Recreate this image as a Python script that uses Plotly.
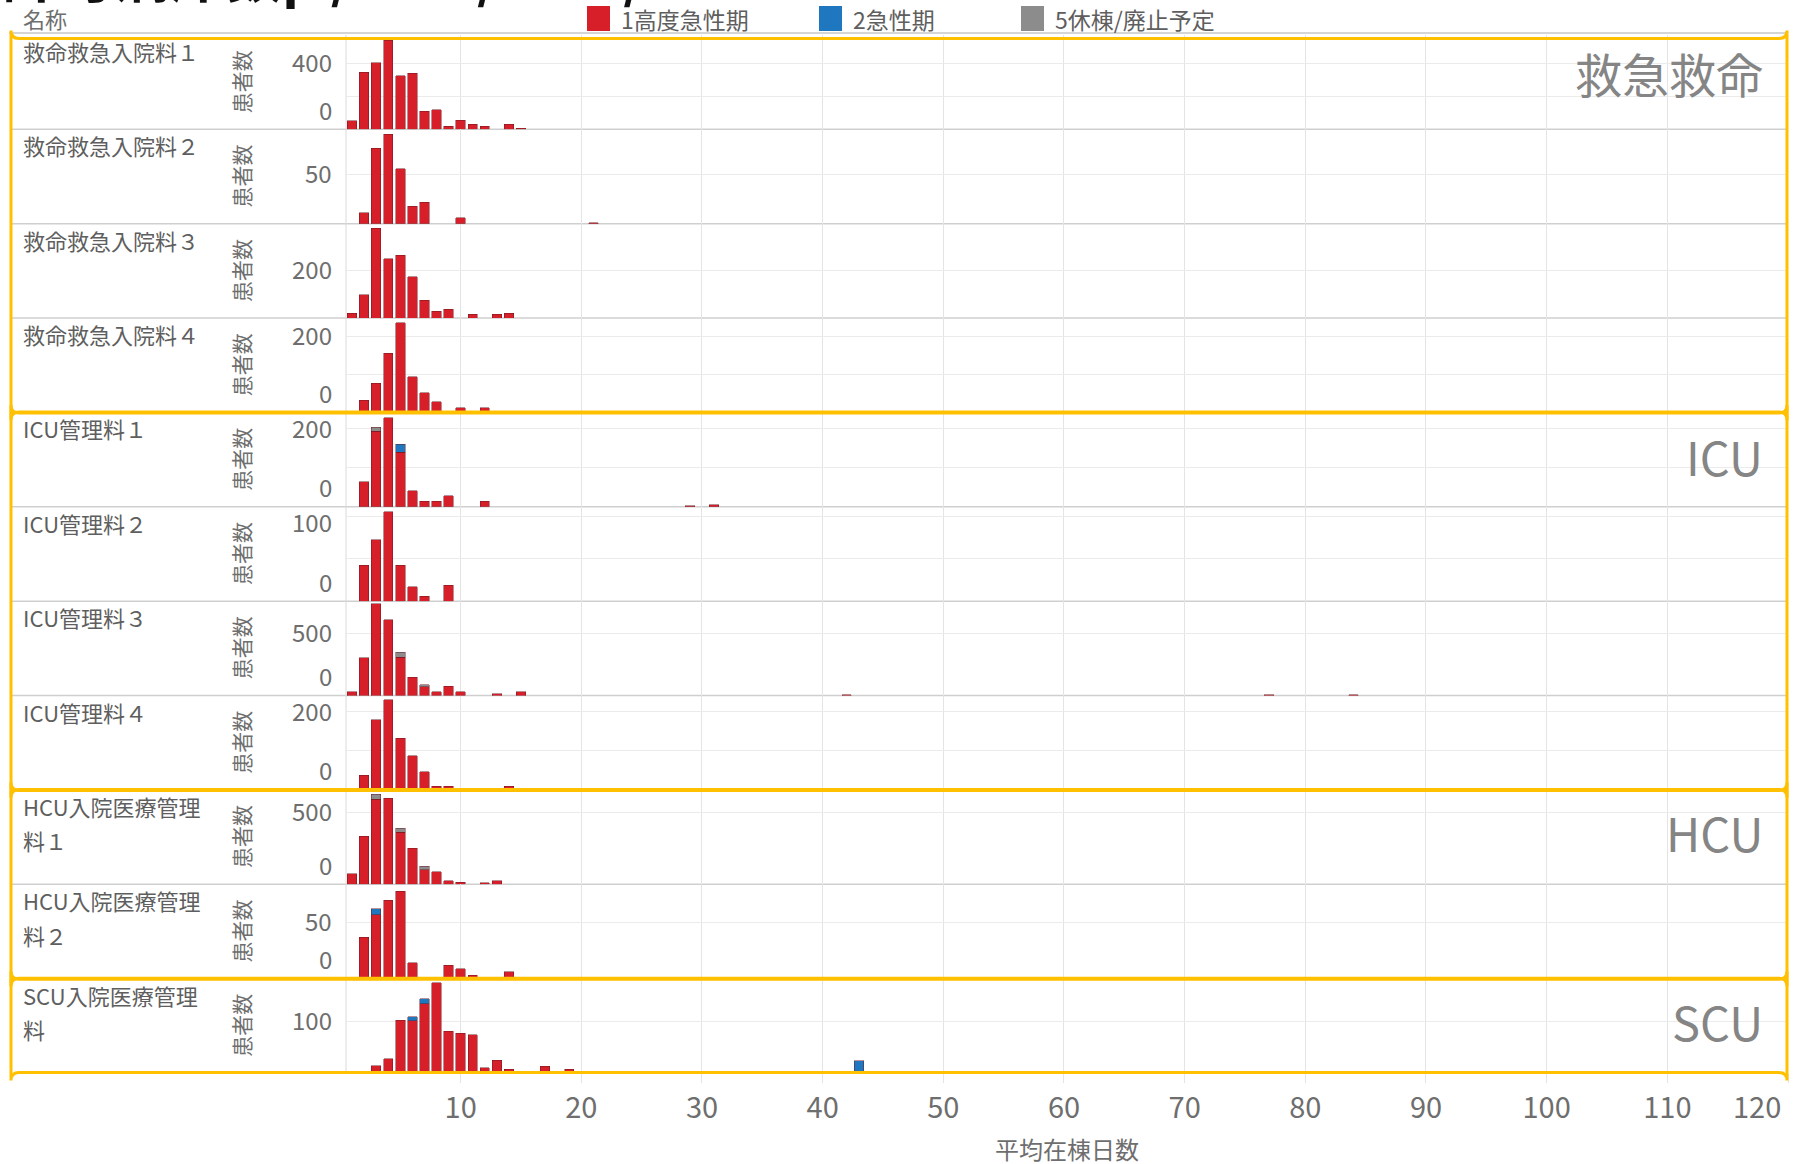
import plotly.graph_objects as go
from plotly.subplots import make_subplots

FONT = "Noto Sans CJK JP"
W, H = 1805, 1164
ML, MR, MT, MB = 346, 17, 35, 91
PW, PH = W - ML - MR, H - MT - MB
NROWS = 11
ROW_H = PH / NROWS

# ---------------- data ----------------
ROW_NAMES = [["救命救急入院料１"], ["救命救急入院料２"], ["救命救急入院料３"], ["救命救急入院料４"],
             ["ICU管理料１"], ["ICU管理料２"], ["ICU管理料３"], ["ICU管理料４"],
             ["HCU入院医療管理", "料１"], ["HCU入院医療管理", "料２"], ["SCU入院医療管理", "料"]]
GROUP_NAMES = ["救急救命", "ICU", "HCU", "SCU"]
GROUP_FIRST_ROW = [0, 4, 8, 10]
GROUP_LAST_ROW = [3, 7, 9, 10]
SERIES = ["1高度急性期", "2急性期", "5休棟/廃止予定"]
COLORS = ["#D71F2A", "#1F78BF", "#8C8C8C"]

DAYS = list(range(1, 22))
HIGH_R1 = [52, 347, 404, 539, 325, 339, 109, 119, 20, 55, 30, 20, 0, 30, 8, 0, 0, 0, 0, 0, 0]
HIGH_R2 = [0, 11, 77, 91, 56, 18, 22, 0, 0, 6, 0, 0, 0, 0, 0, 0, 0, 0, 0, 0, 1]
HIGH_R3 = [21, 97, 374, 247, 262, 172, 75, 29, 36, 0, 15, 0, 15, 21, 0, 0, 0, 0, 0, 0, 0]
HIGH_R4 = [0, 33, 77, 157, 238, 95, 52, 28, 0, 13, 0, 13, 0, 0, 0, 0, 0, 0, 0, 0, 0]
HIGH_R5 = [0, 64, 192, 226, 139, 41, 14, 14, 28, 0, 0, 14, 0, 0, 0, 0, 0, 0, 0, 0, 0]
HIGH_R6 = [0, 42, 72, 105, 42, 17, 6, 0, 19, 0, 0, 0, 0, 0, 0, 0, 0, 0, 0, 0, 0]
HIGH_R7 = [30, 304, 740, 613, 309, 148, 69, 32, 75, 30, 0, 0, 13, 0, 30, 0, 0, 0, 0, 0, 0]
HIGH_R8 = [0, 37, 180, 231, 133, 87, 46, 9, 9, 0, 0, 0, 0, 9, 0, 0, 0, 0, 0, 0, 0]
HIGH_R9 = [74, 337, 593, 600, 365, 251, 101, 88, 23, 14, 0, 12, 23, 0, 0, 0, 0, 0, 0, 0, 0]
HIGH_R10 = [0, 37, 57, 70, 78, 14, 0, 1, 12, 9, 3, 0, 1, 6, 0, 0, 0, 0, 0, 0, 0]
HIGH_R11 = [0, 0, 14, 28, 103, 102, 136, 177, 82, 78, 75, 10, 25, 7, 0, 0, 13, 0, 7, 0, 0]
HIGH_ROWS = [HIGH_R1, HIGH_R2, HIGH_R3, HIGH_R4, HIGH_R5, HIGH_R6,
             HIGH_R7, HIGH_R8, HIGH_R9, HIGH_R10, HIGH_R11]

# sparse long-stay outliers (1高度急性期)
OUTLIER_ROWS = [4, 4, 6, 6, 6, 10]
OUTLIER_DAYS = [29, 31, 42, 77, 84, 47]
OUTLIER_VALS = [3, 5, 8, 8, 8, 3]
# 2急性期
ACUTE_ROWS = [4, 9, 10, 10, 10]
ACUTE_DAYS = [5, 3, 6, 7, 43]
ACUTE_VALS = [20, 5, 8, 10, 24]
# 5休棟/廃止予定
CLOSED_ROWS = [4, 6, 6, 8, 8, 8]
CLOSED_DAYS = [3, 5, 7, 3, 5, 7]
CLOSED_VALS = [10, 40, 20, 35, 26, 25]

# per-row y axes
Y_MAX = [572, 96, 393, 250, 240, 111, 761, 242, 659, 84, 185]
Y_GRID = [[200, 400], [50], [200], [100, 200], [100, 200], [50, 100], [500], [100, 200], [500], [50], [100]]
Y_LABELS = [[0, 400], [50], [200], [0, 200], [0, 200], [0, 100], [0, 500], [0, 200], [0, 500], [0, 50], [100]]

X_TICKS = [10, 20, 30, 40, 50, 60, 70, 80, 90, 100, 110, 120]
X_RANGE = [0.5, 120]
X_TITLE = "平均在棟日数"
Y_TITLE = "患者数"
HEADER = "名称"
TOP_FRAGMENT = "許可病床数p / 400 / 400 / 300"

# ---------------- helpers ----------------
def X(px):
    return (px - ML) / PW


def Y(py):
    return (H - MB - py) / PH


def bound(k):
    return MT + k * ROW_H


def yname(i):
    return "y" if i == 0 else f"y{i + 1}"


def rrect(x0, y0, x1, y1, r=8):
    return (f"M {X(x0 + r)},{Y(y0)} L {X(x1 - r)},{Y(y0)} Q {X(x1)},{Y(y0)} {X(x1)},{Y(y0 + r)} "
            f"L {X(x1)},{Y(y1 - r)} Q {X(x1)},{Y(y1)} {X(x1 - r)},{Y(y1)} "
            f"L {X(x0 + r)},{Y(y1)} Q {X(x0)},{Y(y1)} {X(x0)},{Y(y1 - r)} "
            f"L {X(x0)},{Y(y0 + r)} Q {X(x0)},{Y(y0)} {X(x0 + r)},{Y(y0)} Z")


EDGE = dict(color="rgba(105,25,35,0.6)", width=0.8)
BAR_W = 0.78

fig = make_subplots(rows=NROWS, cols=1, shared_xaxes=True, vertical_spacing=0)

for i in range(NROWS):
    r = i + 1
    xs = [d for d, v in zip(DAYS, HIGH_ROWS[i]) if v > 0]
    ys = [v for v in HIGH_ROWS[i] if v > 0]
    xs += [d for rr, d in zip(OUTLIER_ROWS, OUTLIER_DAYS) if rr == i]
    ys += [v for rr, v in zip(OUTLIER_ROWS, OUTLIER_VALS) if rr == i]
    fig.add_trace(go.Bar(x=xs, y=ys, name=SERIES[0], width=BAR_W,
                         marker=dict(color=COLORS[0], line=EDGE), showlegend=False), row=r, col=1)
    ax = [d for rr, d in zip(ACUTE_ROWS, ACUTE_DAYS) if rr == i]
    ay = [v for rr, v in zip(ACUTE_ROWS, ACUTE_VALS) if rr == i]
    if ax:
        fig.add_trace(go.Bar(x=ax, y=ay, name=SERIES[1], width=BAR_W,
                             marker=dict(color=COLORS[1], line=EDGE), showlegend=False), row=r, col=1)
    cx = [d for rr, d in zip(CLOSED_ROWS, CLOSED_DAYS) if rr == i]
    cy = [v for rr, v in zip(CLOSED_ROWS, CLOSED_VALS) if rr == i]
    if cx:
        fig.add_trace(go.Bar(x=cx, y=cy, name=SERIES[2], width=BAR_W,
                             marker=dict(color=COLORS[2], line=EDGE), showlegend=False), row=r, col=1)

    fig.update_yaxes(row=r, col=1, range=[0, Y_MAX[i]], tickvals=Y_GRID[i], showticklabels=False,
                     showgrid=True, gridcolor="#EBEBEB", gridwidth=1, zeroline=False, ticks="",
                     fixedrange=True)
    fig.update_xaxes(row=r, col=1, range=X_RANGE, tickvals=X_TICKS, showgrid=True,
                     gridcolor="#E4E4E4", gridwidth=1, zeroline=False, showline=False)

fig.update_xaxes(row=NROWS, col=1, showticklabels=True,
                 ticktext=[str(v) for v in X_TICKS[:-1]] + [""],
                 ticks="outside", ticklen=9, tickcolor="#E4E4E4", tickwidth=1,
                 tickfont=dict(family=FONT, size=29, color="#6E6E6E"))

annotations = []
shapes = []

# row separators, header line, left plot edge
for k in range(1, NROWS):
    shapes.append(dict(type="line", xref="paper", yref="paper", x0=X(11), x1=1, y0=Y(bound(k)), y1=Y(bound(k)),
                       line=dict(color="#CFCFCF", width=1.5), layer="below"))
shapes.append(dict(type="line", xref="paper", yref="paper", x0=X(9), x1=1, y0=Y(33), y1=Y(33),
                   line=dict(color="#D5D5D5", width=2), layer="below"))
shapes.append(dict(type="line", xref="paper", yref="paper", x0=0, x1=0, y0=0, y1=1,
                   line=dict(color="#DADADA", width=1), layer="below"))

for i in range(NROWS):
    lines = ROW_NAMES[i]
    for j, t in enumerate(lines):
        annotations.append(dict(text=t, xref="paper", x=X(21), xanchor="left",
                                yref=f"{yname(i)} domain", y=1, yanchor="middle", yshift=-16 - 34.5 * j,
                                showarrow=False, font=dict(family=FONT, size=22, color="#5E5E5E")))
    annotations.append(dict(text=Y_TITLE, xref="paper", x=X(241), xanchor="center",
                            yref=f"{yname(i)} domain", y=0.5, yanchor="middle", textangle=-90,
                            showarrow=False, font=dict(family=FONT, size=21, color="#6E6E6E")))
    for v in Y_LABELS[i]:
        if v == 0:
            ys = 20
        else:
            dist = (Y_MAX[i] - v) / Y_MAX[i] * ROW_H
            ys = (-(17 - dist) if dist < 17 else 0) + 2
        annotations.append(dict(text=str(v), xref="paper", x=X(334), xanchor="right",
                                yref=yname(i), y=v, yanchor="middle", yshift=ys,
                                showarrow=False, font=dict(family=FONT, size=24, color="#6E6E6E")))

# group boxes and labels
GROUP_LABEL_SHIFT = [-37, -43, -42, -42]
for g, name in enumerate(GROUP_NAMES):
    a, b = GROUP_FIRST_ROW[g], GROUP_LAST_ROW[g]
    top = bound(a) + (3.5 if a == 0 else 0.5)
    bot = bound(b + 1) - 0.5
    shapes.append(dict(type="path", xref="paper", yref="paper", path=rrect(11, bot, 1787, top),
                       line=dict(color="#FFC000", width=3), layer="above"))
    annotations.append(dict(text=name, xref="paper", x=X(1765), xanchor="right",
                            yref=f"{yname(a)} domain", y=1, yanchor="middle", yshift=GROUP_LABEL_SHIFT[g],
                            showarrow=False, font=dict(family=FONT, size=47, color="#858585")))

# header + legend
annotations.append(dict(text=HEADER, xref="paper", x=X(21), xanchor="left", yref="paper", y=Y(18),
                        yanchor="middle", showarrow=False, font=dict(family=FONT, size=22, color="#6E6E6E")))
LEG_SQ_X = [587, 819, 1021]
for s, name in enumerate(SERIES):
    x0 = LEG_SQ_X[s]
    shapes.append(dict(type="rect", xref="paper", yref="paper", x0=X(x0), x1=X(x0 + 23), y0=Y(31), y1=Y(6),
                       fillcolor=COLORS[s], line=dict(width=0)))
    annotations.append(dict(text=name, xref="paper", x=X(x0 + 32), xanchor="left", yref="paper", y=Y(19),
                            yanchor="middle", showarrow=False,
                            font=dict(family=FONT, size=23, color="#5E5E5E")))

# cropped heading fragment at the very top
annotations.append(dict(text=f"<b>{TOP_FRAGMENT}</b>", xref="paper", x=X(0), xanchor="left", yref="paper",
                        y=Y(15), yanchor="bottom", showarrow=False,
                        font=dict(family=FONT, size=56, color="#111111")))

# x axis: last tick label and title
annotations.append(dict(text=str(X_TICKS[-1]), xref="x11", x=X_TICKS[-1], xanchor="right", xshift=-5,
                        yref="paper", y=Y(1105), yanchor="middle", showarrow=False,
                        font=dict(family=FONT, size=29, color="#6E6E6E")))
annotations.append(dict(text=X_TITLE, xref="paper", x=0.5, xanchor="center", yref="paper", y=Y(1148),
                        yanchor="middle", showarrow=False, font=dict(family=FONT, size=24, color="#6E6E6E")))

fig.update_layout(width=W, height=H, margin=dict(l=ML, r=MR, t=MT, b=MB, autoexpand=False),
                  paper_bgcolor="white", plot_bgcolor="rgba(0,0,0,0)", barmode="stack",
                  showlegend=False, font=dict(family=FONT), annotations=annotations, shapes=shapes,
                  hovermode=False)

fig.write_html("out.html", config={"displayModeBar": False},
               post_script="document.body.style.margin='0px';document.body.style.padding='0px';"
                           "document.body.style.overflow='hidden';")
